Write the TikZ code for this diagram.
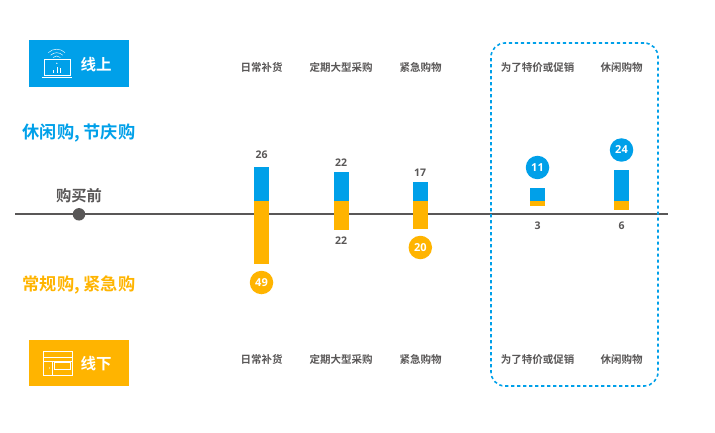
\documentclass[tikz,border=0pt]{standalone}
\usepackage{fontspec}
\newfontfamily\cjk{Noto Sans CJK SC Bold}
\newfontfamily\numf{Open Sans}
\newfontfamily\numv{Open Sans Semibold}
\definecolor{cblue}{HTML}{00A0E9}
\definecolor{corange}{HTML}{FFB400}
\definecolor{cgray}{HTML}{595757}
\definecolor{caxis}{HTML}{595757}
\tikzset{
  x=1pt,y=-1pt,
  cat/.style={font=\cjk\fontsize{10.5}{12}\selectfont,text=cgray,inner sep=0pt},
  head/.style={font=\cjk\fontsize{17.2}{19}\selectfont,inner sep=0pt},
  val/.style={font=\numf\bfseries\fontsize{10.5}{12}\selectfont,text=cgray,inner sep=0pt},
  bub/.style={circle,minimum size=23.5pt,inner sep=0pt,text=white,font=\numf\bfseries\fontsize{11}{12}\selectfont},
  tag/.style={minimum width=100pt,minimum height=47pt,inner sep=0pt},
  tagt/.style={font=\cjk\fontsize{15.5}{17}\selectfont,text=white,inner sep=0pt},
  icon/.style={draw=white,line width=0.45pt,fill=none},
}
\begin{document}
\begin{tikzpicture}
\useasboundingbox (0,0) rectangle (715,433);
% axis
\coordinate (axL) at (15,214.3);
\coordinate (axR) at (668,214.3);
\draw[caxis,line width=2pt] (axL) -- (axR);
\node[circle,fill=caxis,minimum size=12.5pt,inner sep=0pt] (dot) at (79,214.3) {};
\node[inner sep=0pt,font=\cjk\fontsize{15.3}{17}\selectfont,text=cgray] (before) at (79,196) {购买前};
% dashed frame
\node[draw=cblue,line width=1.6pt,dash pattern=on 3.2pt off 2.8pt,rounded corners=14pt,minimum width=167pt,minimum height=343pt,inner sep=0pt] (frame) at (574.5,214.5) {};
% tags
\node[tag,fill=cblue] (on) at (79,63.5) {};
\node[tagt] (ont) at (96,65) {线上};
\node[tag,fill=corange,minimum height=46.5pt] (off) at (79,363) {};
\node[tagt] (offt) at (96,363.5) {线下};
% wifi laptop icon
\draw[icon] (44,59.3) rectangle (70,75);
\draw[icon] (42,77.3) -- (72,77.3);
\draw[icon] (53.3,73) -- (53.3,70); \draw[icon] (57,73) -- (57,67); \draw[icon] (60.5,73) -- (60.5,68.5);
\fill[white] (56.8,63.3) circle (0.7);
\draw[icon] (53,57.5) arc (225:315:5.2);
\draw[icon] (50.7,55.2) arc (225:315:8.5);
\draw[icon] (48.35,52.65) arc (225:315:11.8);
% store icon
\draw[icon] (43.3,351) rectangle (72.3,375);
\draw[icon] (43.3,357) -- (72.3,357);
\draw[icon] (43.3,361.5) -- (72.3,361.5);
\draw[icon] (52.5,361.5) -- (52.5,375);
\draw[icon] (54.5,362.5) rectangle (70,369);
\fill[white] (49.5,368) circle (0.6);
% headings
\node[head,text=cblue] (h1) at (79,133) {休闲购, 节庆购};
\node[head,text=corange] (h2) at (79,285) {常规购, 紧急购};
% categories
\foreach \n/\x/\t in {a/261.5/日常补货,b/341/定期大型采购,c/420.5/紧急购物,d/537.5/为了特价或促销,e/621.5/休闲购物}{
  \node[cat] (top\n) at (\x,67.5) {\t};
  \node[cat] (bot\n) at (\x,359.5) {\t};
}
% bars
\fill[cblue] (254.3,166.7) rectangle (269,201.3);
\fill[corange] (254.3,201.3) rectangle (269,264);
\fill[cblue] (333.7,172.3) rectangle (348.5,201.3);
\fill[corange] (333.7,201.3) rectangle (348.5,230.3);
\fill[cblue] (413,182.3) rectangle (428,201.3);
\fill[corange] (413,201.3) rectangle (428,229);
\fill[cblue] (530.3,188) rectangle (545,201.3);
\fill[corange] (530.3,201.3) rectangle (545,206.3);
\fill[cblue] (614,170) rectangle (629,201.3);
\fill[corange] (614,201.3) rectangle (629,210.3);
% values
\node[val] (v1) at (261.5,154.5) {26};
\node[val] (v2) at (341,162.5) {22};
\node[val] (v3) at (341,240.5) {22};
\node[val] (v4) at (420,172.5) {17};
\node[val] (v5) at (537.5,225.5) {3};
\node[val] (v6) at (621.5,225.5) {6};
% bubbles
\node[bub,fill=corange] (b1) at (261.5,282.5) {49};
\node[bub,fill=corange] (b2) at (420.3,247.5) {20};
\node[bub,fill=cblue] (b3) at (537.5,167.5) {11};
\node[bub,fill=cblue] (b4) at (621.5,150) {24};
\end{tikzpicture}
\end{document}
